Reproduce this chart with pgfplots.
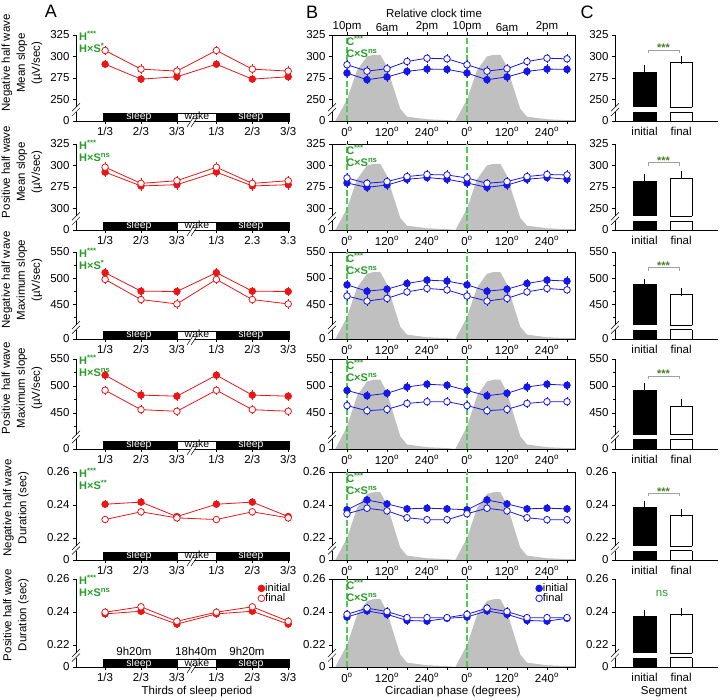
\documentclass[border=0pt]{standalone}
\usepackage{fontspec}
\setmainfont{Liberation Sans}
\usepackage{pgfplots}
\usepackage{pgfplotstable}
\pgfplotsset{compat=1.18}

\definecolor{cred}{RGB}{232,22,22}
\definecolor{cblue}{RGB}{22,22,232}
\definecolor{cgreen}{RGB}{40,155,40}
\definecolor{cgray}{RGB}{192,192,192}
\definecolor{cstar}{RGB}{70,125,30}
\definecolor{cbrk}{RGB}{160,160,160}
\definecolor{lgreen}{RGB}{80,205,80}

\newcommand{\fs}{\fontsize{11.5bp}{13bp}\selectfont}

\pgfplotstableread{
x y
-45 0
-35 0
0 0.25
30 0.59
60 0.75
80 0.77
100 0.77
120 0.63
140 0.38
160 0.14
180 0.05
240 0.02
300 0.01
325 0
360 0.25
390 0.59
420 0.75
440 0.77
460 0.77
480 0.63
500 0.38
520 0.14
540 0.05
600 0.02
660 0.01
684 0.01
}\graytab

\pgfplotsset{
 base/.style={scale only axis, clip mode=individual, tick align=outside,
   major tick length=3bp, minor tick length=2bp,
   tick style={black, line width=0.5bp},
   axis line style={line width=0.6bp},
   tick label style={font=\fs},
   anchor=south west},
 rowS/.style={ymin=225,ymax=325,ytick={225,250,275,300,325},yticklabels={0,250,275,300,325}},
 rowSx/.style={ymin=225,ymax=325,ytick={225,250,275,300,325},yticklabels={0,300,275,300,325}},
 rowM/.style={ymin=383,ymax=550,ytick={383,450,500,550},minor ytick={425,475,525},yticklabels={0,450,500,550}},
 rowD/.style={ymin=0.2065,ymax=0.26,ytick={0.2065,0.22,0.24,0.26},yticklabels={0,0.22,0.24,0.26}},
 pA/.style={base, width=214bp, xmin=0.19, xmax=6.15, axis x line*=bottom, axis y line*=left,
   xtick={1,2,3,4.1,5.1,6.1}, xticklabels={1/3,2/3,3/3,1/3,2/3,3/3}},
 pB/.style={base, width=243bp, xmin=-45, xmax=684, xtick={0,60,...,660},
   xticklabels={0\textsuperscript{o},,120\textsuperscript{o},,240\textsuperscript{o},,0\textsuperscript{o},,120\textsuperscript{o},,240\textsuperscript{o},},
   xtick pos=both, xticklabel pos=bottom, ytick pos=left},
 pC/.style={base, width=103bp, xmin=0.19, xmax=3.01, axis x line*=bottom, axis y line*=left,
   xtick={1,2}, xticklabels={initial,final}, xtick style={draw=none}},
 gB/.style={scale only axis, hide axis, width=243bp, xmin=-45, xmax=684, ymin=0, ymax=1, anchor=south west},
 ini/.style={color=#1, line width=0.8bp, mark=*, mark size=3.3bp, mark options={solid},
   error bars/y dir=both, error bars/y explicit,
   error bars/error bar style={line width=0.6bp, solid},
   error bars/error mark options={line width=0.6bp, mark size=2.5bp}},
 fin/.style={ini=#1, mark options={fill=white, solid}},
 cbar/.style={ybar, bar width=22.5bp, bar shift=0pt, draw=black, line width=0.6bp,
   error bars/y dir=plus, error bars/y explicit,
   error bars/error bar style={black, line width=0.6bp},
   error bars/error mark options={black, line width=0.6bp, mark size=4bp}},
 leg/.style={legend style={at={(rel axis cs:#1,0.955)}, anchor=north west, draw=none, fill=none,
    inner sep=0pt, font=\fontsize{11bp}{12bp}\selectfont, row sep=-0.5bp, nodes={inner sep=0.5bp}},
  legend cell align=left},
}

\tikzset{
 annA/.style={anchor=north west, inner sep=0pt, align=left, text=cgreen, font=\fontsize{11bp}{12bp}\selectfont\bfseries, xshift=3bp, yshift=4bp},
 annB/.style={anchor=north west, inner sep=0pt, align=left, text=cgreen, font=\fontsize{11bp}{12bp}\selectfont\bfseries, yshift=-1bp},
 ylab/.style={rotate=90, align=center, font=\fontsize{11.5bp}{15bp}\selectfont},
 gline/.style={draw=lgreen, dash pattern=on 6bp off 2.5bp, line width=1.1bp},
}

\newcommand{\grayaxis}[2]{%
\begin{axis}[gB, height=#1, at={(332bp,#2)}]
\addplot[fill=cgray, draw=none] table {\graytab} \closedcycle;
\end{axis}}

\newcommand{\glines}{%
\draw[gline] (axis cs:0,\pgfkeysvalueof{/pgfplots/ymin}) -- (axis cs:0,\pgfkeysvalueof{/pgfplots/ymax});
\draw[gline] (axis cs:360,\pgfkeysvalueof{/pgfplots/ymin}) -- (axis cs:360,\pgfkeysvalueof{/pgfplots/ymax});}

\newcommand{\ybrk}[2]{%
 \begin{scope}[shift={(#1bp,#2bp)}]
  \fill[white] (-2.5bp,-2.3bp) rectangle (2.5bp,2.3bp);
  \draw[line width=0.5bp] (-4bp,-6.3bp) -- (4bp,1.7bp);
  \draw[line width=0.5bp] (-4bp,-1.7bp) -- (4bp,6.3bp);
 \end{scope}}

\newcommand{\xbrk}[1]{%
 \begin{scope}[shift={(192bp,#1bp)}]
  \fill[white] (-2bp,-1bp) rectangle (2bp,1bp);
  \draw[line width=0.5bp] (-5bp,-5bp) -- (1bp,4bp);
  \draw[line width=0.5bp] (-1bp,-5bp) -- (5bp,4bp);
 \end{scope}}

\newcommand{\sleepbar}[1]{%
 \begin{scope}[shift={(0bp,#1bp)}]
  \fill[black] (103bp,0bp) rectangle (177bp,7.5bp);
  \draw[line width=0.5bp] (177bp,0bp) rectangle (216bp,7.5bp);
  \fill[black] (216bp,0bp) rectangle (290bp,7.5bp);
  \node[white, anchor=base, inner sep=0pt, font=\fontsize{10.5bp}{11bp}\selectfont] at (139bp,1bp) {sleep};
  \node[anchor=base, inner sep=0pt, font=\fontsize{10.5bp}{11bp}\selectfont] at (197bp,1bp) {wake};
  \node[white, anchor=base, inner sep=0pt, font=\fontsize{10.5bp}{11bp}\selectfont] at (251bp,1bp) {sleep};
 \end{scope}}

\newcommand{\cstripe}[1]{%
 \begin{scope}[shift={(0bp,#1bp)}]
  \fill[white] (632.6bp,-2.3bp) rectangle (656.6bp,2.3bp);
  \fill[white] (669.2bp,-2.3bp) rectangle (693bp,2.3bp);
  \draw[line width=0.6bp] (669.85bp,-2.3bp) -- (692.35bp,-2.3bp);
  \draw[line width=0.6bp] (669.85bp,2.3bp) -- (692.35bp,2.3bp);
 \end{scope}}

\newcommand{\sigbr}[1]{%
 \draw[cbrk, line width=0.6bp] (648bp,#1bp-3bp) -- (648bp,#1bp) -- (679bp,#1bp) -- (679bp,#1bp-3bp);
 \node[text=cstar, font=\fontsize{11bp}{11bp}\selectfont\bfseries, inner sep=0pt, anchor=base] at (663.5bp,#1bp-2bp) {***};}

\begin{document}
\begin{tikzpicture}[font=\fs]
\path[use as bounding box] (0,0) rectangle (720bp,700bp);

%================ ROW 1 =================
\begin{axis}[pA, rowS, height=86bp, at={(76bp,579bp)}]
\addplot[ini=cred] table[y error=e] {
x y e
1 291 2
2 273.7 2
3 276.4 2
4.1 291 2
5.1 273.7 2
6.1 276.4 2
};
\addplot[fin=cred] table[y error=e] {
x y e
1 307 2.5
2 285.3 2.5
3 283 2.5
4.1 307 2.5
5.1 285.3 2.5
6.1 283 2.5
};
\node[annA] at (rel axis cs:0,1) {H\textsuperscript{***}\\H×S\textsuperscript{*}};
\end{axis}
\grayaxis{86bp}{579bp}
\begin{axis}[pB, rowS, height=86bp, at={(332bp,579bp)}]
\glines
\addplot[ini=cblue] table[y error=e] {
x y e
0 280.8 2.5
60 273 2.5
120 276.2 2.5
180 282.7 2.5
240 285.4 2.5
300 285 2.5
360 280.8 2.5
420 273 2.5
480 276.2 2.5
540 282.7 2.5
600 285.4 2.5
660 285 2.5
};
\addplot[fin=cblue] table[y error=e] {
x y e
0 290.4 2.5
60 283 2.5
120 285.8 2.5
180 294.2 2.5
240 298 2.5
300 297.3 2.5
360 290.4 2.5
420 283 2.5
480 285.8 2.5
540 294.2 2.5
600 298 2.5
660 297.3 2.5
};
\node[annB] at (rel axis cs:0.058,1) {C\textsuperscript{***}\\C×S\textsuperscript{ns}};
\end{axis}
\begin{axis}[scale only axis, width=243bp, height=86bp, at={(332bp,579bp)}, anchor=south west,
  xmin=-45, xmax=684, ymin=0, ymax=1, axis x line*=top, axis y line=none,
  axis line style={line width=0.6bp},
  xtick={0,120,...,600}, xticklabels={10pm,6am,2pm,10pm,6am,2pm},
  xtick style={draw=none}, tick label style={font=\fs}]
\end{axis}
\begin{axis}[pC, rowS, height=86bp, at={(615bp,579bp)}]
\addplot[cbar, fill=black] coordinates {(1,282) +- (0,3)};
\addplot[cbar, fill=white] coordinates {(2,293) +- (0,3.5)};
\end{axis}

%================ ROW 2 =================
\begin{axis}[pA, rowSx, height=86bp, at={(76bp,470bp)}, xticklabels={1/3,2/3,3/3,1/3,2.3,3.3}]
\addplot[ini=cred] table[y error=e] {
x y e
1 292.3 3
2 276.2 3
3 277.7 3
4.1 292.3 3
5.1 276.2 3
6.1 277.7 3
};
\addplot[fin=cred] table[y error=e] {
x y e
1 298 3
2 279.2 3
3 282.3 3
4.1 298 3
5.1 279.2 3
6.1 282.3 3
};
\node[annA] at (rel axis cs:0,1) {H\textsuperscript{***}\\H×S\textsuperscript{ns}};
\end{axis}
\grayaxis{86bp}{470bp}
\begin{axis}[pB, rowSx, height=86bp, at={(332bp,470bp)}]
\glines
\addplot[ini=cblue] table[y error=e] {
x y e
0 279.7 2.5
60 274.6 2.5
120 277.3 2.5
180 284 2.5
240 286 2.5
300 284 2.5
360 279.7 2.5
420 274.6 2.5
480 277.3 2.5
540 284 2.5
600 286 2.5
660 284 2.5
};
\addplot[fin=cblue] table[y error=e] {
x y e
0 285.5 2.5
60 279.3 2.5
120 281.3 2.5
180 287.1 2.5
240 289.5 2.5
300 289 2.5
360 285.5 2.5
420 279.3 2.5
480 281.3 2.5
540 287.1 2.5
600 289.5 2.5
660 289 2.5
};
\node[annB] at (rel axis cs:0.058,1) {C\textsuperscript{***}\\C×S\textsuperscript{ns}};
\end{axis}
\begin{axis}[pC, rowS, height=86bp, at={(615bp,470bp)}]
\addplot[cbar, fill=black] coordinates {(1,281.3) +- (0,3.7)};
\addplot[cbar, fill=white] coordinates {(2,285) +- (0,4)};
\end{axis}

%================ ROW 3 =================
\begin{axis}[pA, rowM, height=87bp, at={(76bp,361bp)}]
\addplot[ini=cred] table[y error=e] {
x y e
1 510.3 4
2 474.8 4
3 474.2 4
4.1 510.3 4
5.1 474.8 4
6.1 474.2 4
};
\addplot[fin=cred] table[y error=e] {
x y e
1 497.4 4
2 458.7 4
3 450.3 4
4.1 497.4 4
5.1 458.7 4
6.1 450.3 4
};
\node[annA] at (rel axis cs:0,1) {H\textsuperscript{***}\\H×S\textsuperscript{*}};
\end{axis}
\grayaxis{87bp}{361bp}
\begin{axis}[pB, rowM, height=87bp, at={(332bp,361bp)}]
\glines
\addplot[ini=cblue] table[y error=e] {
x y e
0 487 4
60 474.7 4
120 478.6 4
180 489.6 4
240 496 4
300 494.2 4
360 487 4
420 474.7 4
480 478.6 4
540 489.6 4
600 496 4
660 494.2 4
};
\addplot[fin=cblue] table[y error=e] {
x y e
0 465.6 4
60 455.8 4
120 461 4
180 473.4 4
240 480 4
300 477.3 4
360 465.6 4
420 455.8 4
480 461 4
540 473.4 4
600 480 4
660 477.3 4
};
\node[annB] at (rel axis cs:0.058,1) {C\textsuperscript{***}\\C×S\textsuperscript{ns}};
\end{axis}
\begin{axis}[pC, rowM, height=87bp, at={(615bp,361bp)}]
\addplot[cbar, fill=black] coordinates {(1,487.5) +- (0,3.5)};
\addplot[cbar, fill=white] coordinates {(2,469) +- (0,5)};
\end{axis}

%================ ROW 4 =================
\begin{axis}[pA, rowM, height=90bp, at={(76bp,251bp)}]
\addplot[ini=cred] table[y error=e] {
x y e
1 520 4
2 483 4
3 481 4
4.1 520 4
5.1 483 4
6.1 481 4
};
\addplot[fin=cred] table[y error=e] {
x y e
1 492 4
2 456 4
3 453 4
4.1 492 4
5.1 456 4
6.1 453 4
};
\node[annA] at (rel axis cs:0,1) {H\textsuperscript{***}\\H×S\textsuperscript{ns}};
\end{axis}
\grayaxis{90bp}{251bp}
\begin{axis}[pB, rowM, height=90bp, at={(332bp,251bp)}]
\glines
\addplot[ini=cblue] table[y error=e] {
x y e
0 491.6 4
60 481.8 4
120 486.4 4
180 498 4
240 503.2 4
300 501.3 4
360 491.6 4
420 481.8 4
480 486.4 4
540 498 4
600 503.2 4
660 501.3 4
};
\addplot[fin=cblue] table[y error=e] {
x y e
0 463.6 4
60 454 4
120 456.5 4
180 467.5 4
240 470.8 4
300 470.8 4
360 463.6 4
420 454 4
480 456.5 4
540 467.5 4
600 470.8 4
660 470.8 4
};
\node[annB] at (rel axis cs:0.058,1) {C\textsuperscript{***}\\C×S\textsuperscript{ns}};
\end{axis}
\begin{axis}[pC, rowM, height=90bp, at={(615bp,251bp)}]
\addplot[cbar, fill=black] coordinates {(1,492) +- (0,6)};
\addplot[cbar, fill=white] coordinates {(2,463) +- (0,6)};
\end{axis}

%================ ROW 5 =================
\begin{axis}[pA, rowD, height=88bp, at={(76bp,140bp)}]
\addplot[ini=cred] table[y error=e] {
x y e
1 0.2404 0.0008
2 0.2417 0.0008
3 0.2329 0.0008
4.1 0.2404 0.0008
5.1 0.2417 0.0008
6.1 0.2329 0.0008
};
\addplot[fin=cred] table[y error=e] {
x y e
1 0.2311 0.0008
2 0.2358 0.0008
3 0.2321 0.0008
4.1 0.2311 0.0008
5.1 0.2358 0.0008
6.1 0.2321 0.0008
};
\node[annA] at (rel axis cs:0,1) {H\textsuperscript{***}\\H×S\textsuperscript{**}};
\end{axis}
\grayaxis{88bp}{140bp}
\begin{axis}[pB, rowD, height=88bp, at={(332bp,140bp)}]
\glines
\addplot[ini=cblue] table[y error=e] {
x y e
0 0.2370 0.001
60 0.2430 0.001
120 0.2406 0.001
180 0.2376 0.001
240 0.2380 0.001
300 0.2376 0.001
360 0.2370 0.001
420 0.2430 0.001
480 0.2406 0.001
540 0.2376 0.001
600 0.2380 0.001
660 0.2376 0.001
};
\addplot[fin=cblue] table[y error=e] {
x y e
0 0.2346 0.001
60 0.2380 0.001
120 0.2364 0.001
180 0.2322 0.001
240 0.2310 0.001
300 0.2310 0.001
360 0.2346 0.001
420 0.2380 0.001
480 0.2364 0.001
540 0.2322 0.001
600 0.2310 0.001
660 0.2310 0.001
};
\node[annB] at (rel axis cs:0.058,1) {C\textsuperscript{***}\\C×S\textsuperscript{ns}};
\end{axis}
\begin{axis}[pC, rowD, height=88bp, at={(615bp,140bp)}]
\addplot[cbar, fill=black] coordinates {(1,0.2384) +- (0,0.0016)};
\addplot[cbar, fill=white] coordinates {(2,0.2334) +- (0,0.0016)};
\end{axis}

%================ ROW 6 =================
\begin{axis}[pA, rowD, height=88bp, at={(76bp,33bp)}, leg=0.85,
  legend image code/.code={\draw[#1] plot[only marks] coordinates {(0.1cm,0cm)};}]
\addplot[ini=cred] table[y error=e] {
x y e
1 0.2388 0.0008
2 0.2404 0.0008
3 0.2326 0.0008
4.1 0.2388 0.0008
5.1 0.2404 0.0008
6.1 0.2326 0.0008
};
\addlegendentry{initial}
\addplot[fin=cred] table[y error=e] {
x y e
1 0.2398 0.0008
2 0.2431 0.0008
3 0.2343 0.0008
4.1 0.2398 0.0008
5.1 0.2431 0.0008
6.1 0.2343 0.0008
};
\addlegendentry{final}
\node[annA] at (rel axis cs:0,1) {H\textsuperscript{***}\\H×S\textsuperscript{ns}};
\end{axis}
\grayaxis{88bp}{33bp}
\begin{axis}[pB, rowD, height=88bp, at={(332bp,33bp)}, leg=0.838,
  legend image code/.code={\draw[#1] plot[only marks] coordinates {(0.1cm,0cm)};}]
\glines
\addplot[ini=cblue] table[y error=e] {
x y e
0 0.2369 0.001
60 0.2406 0.001
120 0.2385 0.001
180 0.2348 0.001
240 0.2344 0.001
300 0.2361 0.001
360 0.2369 0.001
420 0.2406 0.001
480 0.2385 0.001
540 0.2348 0.001
600 0.2344 0.001
660 0.2361 0.001
};
\addlegendentry{initial}
\addplot[fin=cblue] table[y error=e] {
x y e
0 0.2385 0.001
60 0.2423 0.001
120 0.2402 0.001
180 0.2365 0.001
240 0.2365 0.001
300 0.2365 0.001
360 0.2385 0.001
420 0.2423 0.001
480 0.2402 0.001
540 0.2365 0.001
600 0.2365 0.001
660 0.2365 0.001
};
\addlegendentry{final}
\node[annB] at (rel axis cs:0.058,1) {C\textsuperscript{***}\\C×S\textsuperscript{ns}};
\end{axis}
\begin{axis}[pC, rowD, height=88bp, at={(615bp,33bp)}]
\addplot[cbar, fill=black] coordinates {(1,0.2372) +- (0,0.0018)};
\addplot[cbar, fill=white] coordinates {(2,0.2384) +- (0,0.0017)};
\end{axis}

%================ DECORATIONS =================
\sleepbar{579}\sleepbar{470}\sleepbar{361}\sleepbar{251}\sleepbar{140}\sleepbar{33}
\xbrk{578}\xbrk{469}\xbrk{360}\xbrk{250}\xbrk{139}\xbrk{32}
\foreach \yy in {590.4,481.4,372.6,263,151.7,44.7}{
  \ybrk{76}{\yy}\ybrk{332}{\yy}\ybrk{615}{\yy}\cstripe{\yy}}
\sigbr{650}\sigbr{537.3}\sigbr{432.3}\sigbr{324}\sigbr{206.7}
\node[text=cgreen, font=\fontsize{11.5bp}{12bp}\selectfont] at (662bp,107bp) {ns};
\node[anchor=base, inner sep=0pt] at (134bp,44.5bp) {9h20m};
\node[anchor=base, inner sep=0pt] at (196bp,44.5bp) {18h40m};
\node[anchor=base, inner sep=0pt] at (247bp,44.5bp) {9h20m};
\node[ylab] at (22bp,637bp) {Negative half wave\\Mean slope\\(µV/sec)};
\node[ylab] at (22bp,528bp) {Positive half wave\\Mean slope\\(µV/sec)};
\node[ylab] at (22bp,420bp) {Negative half wave\\Maximum slope\\(µV/sec)};
\node[ylab] at (22bp,312bp) {Positive half wave\\Maximum slope\\(µV/sec)};
\node[ylab] at (16bp,192bp) {Negative half wave\\Duration (sec)};
\node[ylab] at (16bp,85bp) {Positive half wave\\Duration (sec)};
\node[font=\fontsize{18bp}{18bp}\selectfont] at (51bp,689bp) {A};
\node[font=\fontsize{18bp}{18bp}\selectfont] at (312bp,688bp) {B};
\node[font=\fontsize{18bp}{18bp}\selectfont] at (587bp,688bp) {C};
\node at (434bp,687bp) {Relative clock time};
\node[anchor=base] at (197bp,6bp) {Thirds of sleep period};
\node[anchor=base] at (453bp,6bp) {Circadian phase (degrees)};
\node[anchor=base] at (664bp,6bp) {Segment};
\end{tikzpicture}
\end{document}
